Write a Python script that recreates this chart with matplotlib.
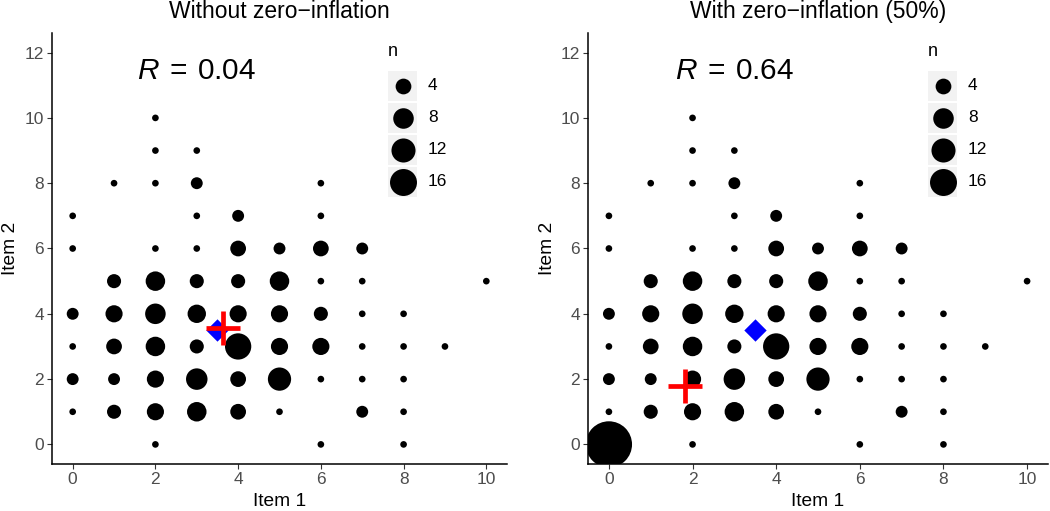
import numpy as np
import matplotlib.pyplot as plt
from matplotlib.patches import Rectangle

plt.rcParams['font.family'] = ['Liberation Sans', 'DejaVu Sans']
plt.rcParams['mathtext.fontset'] = 'custom'
plt.rcParams['mathtext.rm'] = 'Liberation Sans'
plt.rcParams['mathtext.it'] = 'Liberation Sans:italic'

# counts per (item1, item2) cell
item1 = [2,
         2, 3,
         1, 2, 3, 6,
         0, 3, 4, 6,
         0, 2, 3, 4, 5, 6, 7,
         1, 2, 3, 4, 5, 6, 7, 10,
         0, 1, 2, 3, 4, 5, 6, 7, 8,
         0, 1, 2, 3, 4, 5, 6, 7, 8, 9,
         0, 1, 2, 3, 4, 5, 6, 7, 8,
         0, 1, 2, 3, 4, 5, 7, 8,
         2, 6, 8]
item2 = [10,
         9, 9,
         8, 8, 8, 8,
         7, 7, 7, 7,
         6, 6, 6, 6, 6, 6, 6,
         5, 5, 5, 5, 5, 5, 5, 5,
         4, 4, 4, 4, 4, 4, 4, 4, 4,
         3, 3, 3, 3, 3, 3, 3, 3, 3, 3,
         2, 2, 2, 2, 2, 2, 2, 2, 2,
         1, 1, 1, 1, 1, 1, 1, 1,
         0, 0, 0]
counts = [1,
          1, 1,
          1, 1, 2, 1,
          1, 1, 2, 1,
          1, 1, 1, 4, 2, 4, 2,
          3, 7, 3, 3, 7, 1, 1, 1,
          2, 5, 8, 6, 5, 5, 3, 1, 1,
          1, 4, 7, 3, 15, 5, 5, 1, 1, 1,
          2, 2, 5, 9, 4, 11, 1, 1, 1,
          1, 3, 5, 7, 4, 1, 2, 1,
          1, 1, 1]
zero_count = 58  # extra (0,0) cell in the zero-inflated panel

means = [(3.64, 3.57), (1.83, 1.79)]
medians = [(3.5, 3.5), (3.5, 3.5)]
r_values = ["0.04", "0.64"]
titles = ["Without zero\u2212inflation", "With zero\u2212inflation (50%)"]
legend_breaks = [4, 8, 12, 16]


def marker_area(n):
    # ggplot-like area scale, returns scatter size in pt^2
    n = np.asarray(n, dtype=float)
    size = 1 + 5 * np.sqrt((n - 1) / 22.8)
    d_px = 1.76 * (2.845 * size + 0.94)
    return (d_px * 72 / 100) ** 2


W, H = 1050, 511
fig = plt.figure(figsize=(W / 100, H / 100), dpi=100)

panels = [(52, 507), (588, 1048)]
ylabel_x = [11, 547]
legend_x = [388, 928]

for i, (x0, x1) in enumerate(panels):
    ax = fig.add_axes([x0 / W, 1 - 464 / H, (x1 - x0) / W, 431 / H])
    xs, ys, ns = list(item1), list(item2), list(counts)
    if i == 1:
        xs.append(0)
        ys.append(0)
        ns.append(zero_count)
    ax.scatter(xs, ys, s=marker_area(ns), color='black', linewidths=0, zorder=2)
    ax.scatter(*medians[i], marker='D', s=12 ** 2 * 0.9, color='#0000FF',
               linewidths=0, zorder=3)
    ax.scatter(*means[i], marker='+', s=24 ** 2, color='#FF0000',
               linewidths=3.4, zorder=4)
    ax.text(3.0, 11.45, r"$R\:=\:%s$" % r_values[i], fontsize=21.5,
            ha='center', va='center')

    ax.set_xlim(-0.5, 10.5)
    ax.set_ylim(-0.6, 12.6)
    ax.set_xticks(range(0, 11, 2))
    ax.set_yticks(range(0, 13, 2))
    for side in ['top', 'right']:
        ax.spines[side].set_visible(False)
    for side in ['left', 'bottom']:
        ax.spines[side].set_linewidth(1.1)
    ax.tick_params(length=3.4, width=0.8, color='#333333', labelcolor='#4D4D4D',
                   labelsize=12.5, pad=2.5)
    ax.set_xlabel("Item 1", fontsize=13.8, labelpad=4)
    ax.set_ylabel("Item 2", fontsize=13.8)
    ax.yaxis.set_label_coords((ylabel_x[i] - x0) / (x1 - x0), 0.5)
    ax.yaxis.label.set_verticalalignment('center')
    ax.set_title(titles[i], fontsize=16.5, pad=11)

    # size legend
    lx = legend_x[i]
    lg = fig.add_axes([lx / W, 1 - 200 / H, 70 / W, 160 / H])
    lg.set_xlim(0, 70)
    lg.set_ylim(160, 0)
    lg.axis('off')
    lg.text(5, 12, "n", fontsize=13, ha='center', va='center')
    for k, b in enumerate(legend_breaks):
        lg.add_patch(Rectangle((0, 31 + 32 * k), 29, 30.5, facecolor='#F2F2F2',
                               edgecolor='none'))
        lg.scatter(14.5, 46 + 32 * k, s=marker_area(b), color='black',
                   linewidths=0)
        lg.text(40, 46 + 32 * k, str(b), fontsize=12.5, ha='left', va='center')

fig.savefig('out.png', dpi=100)
